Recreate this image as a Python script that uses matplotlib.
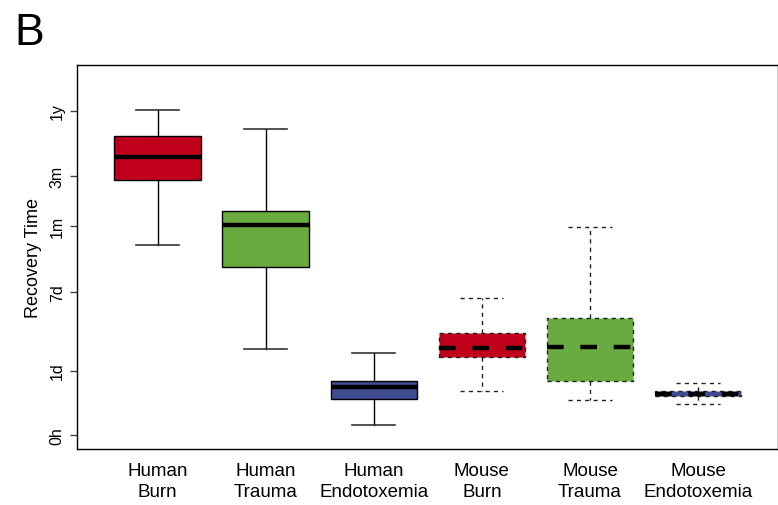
import numpy as np
import matplotlib
matplotlib.use('Agg')
import matplotlib.pyplot as plt

plt.rcParams['font.family'] = ['Liberation Sans', 'DejaVu Sans']
plt.rcParams['lines.scale_dashes'] = False

# ── data: recovery time in hours ─────────────────────────────────
groups     = ['Human\nBurn', 'Human\nTrauma', 'Human\nEndotoxemia',
              'Mouse\nBurn', 'Mouse\nTrauma', 'Mouse\nEndotoxemia']
whisker_lo = [478, 43, 1.9, 12.4, 8.9, 7.5]
q1         = [1949, 294, 9.2, 35.2, 17.4, 10.3]
median     = [3254, 741, 14.6, 44.1, 45.6, 11.4]
q3         = [5061, 994, 17.7, 64.1, 91, 12.6]
whisker_hi = [8999, 5889, 39, 145.7, 705, 16.3]
box_colors = ['#C0001A', '#6AAB40', '#404B92', '#C0001A', '#6AAB40', '#404B92']

tick_hours  = [0, 24, 168, 720, 2160, 8760]
tick_labels = ['0h', '1d', '7d', '1m', '3m', '1y']


# log scale with an 8 hour offset so that 0h can sit on the axis
def fwd(h):
    with np.errstate(invalid='ignore', divide='ignore'):
        return np.log10(np.asarray(h, dtype=float) + 8)


def inv(y):
    return 10 ** np.asarray(y, dtype=float) - 8


stats = []
for i in range(len(groups)):
    stats.append(dict(whislo=whisker_lo[i], q1=q1[i], med=median[i],
                      q3=q3[i], whishi=whisker_hi[i], fliers=[]))

fig = plt.figure(figsize=(7.78, 5.06), dpi=100)
ax = fig.add_axes([0.0994, 0.110, 0.9000, 0.760])
ax.set_yscale('function', functions=(fwd, inv))

# human studies: solid outlines
human = ax.bxp(stats[:3], positions=[1, 2, 3], widths=0.8, capwidths=0.4,
               patch_artist=True, showfliers=False,
               boxprops=dict(linewidth=1, edgecolor='black'),
               medianprops=dict(color='black', linewidth=3.2, solid_capstyle='butt'),
               whiskerprops=dict(color='black', linewidth=1),
               capprops=dict(color='#333333', linewidth=1.2))

# mouse studies: dashed outlines
dash = (0, (3, 3))
mouse = ax.bxp(stats[3:], positions=[4, 5, 6], widths=0.8, capwidths=0.4,
               patch_artist=True, showfliers=False,
               boxprops=dict(linewidth=1, edgecolor='#222222', linestyle=dash),
               medianprops=dict(color='black', linewidth=3.2, linestyle=(0, (12, 12)),
                                dash_capstyle='butt'),
               whiskerprops=dict(color='#222222', linewidth=1, linestyle=dash),
               capprops=dict(color='#222222', linewidth=1, linestyle=dash))

for patch, c in zip(human['boxes'] + mouse['boxes'], box_colors):
    patch.set_facecolor(c)

ax.set_xlim(0.258, 6.735)
ax.set_ylim(-2.17, 23815)

ax.set_yticks(tick_hours)
ax.set_yticklabels(tick_labels, rotation=90, va='center', fontsize=11.5)
ax.yaxis.set_minor_locator(matplotlib.ticker.NullLocator())
ax.tick_params(axis='y', length=5, width=1, color='#444444', pad=4)

ax.set_xticks(range(1, 7))
ax.set_xticklabels(groups, fontsize=13.5, linespacing=1.3)
ax.tick_params(axis='x', length=0, pad=9)

ax.set_ylabel('Recovery Time', fontsize=13)
ax.yaxis.set_label_coords(-0.050, 0.5)

for sp in ax.spines.values():
    sp.set_linewidth(1)
    sp.set_color('black')

fig.text(0.018, 0.911, 'B', fontsize=32, va='baseline', ha='left')

fig.savefig('out.png', dpi=100)
